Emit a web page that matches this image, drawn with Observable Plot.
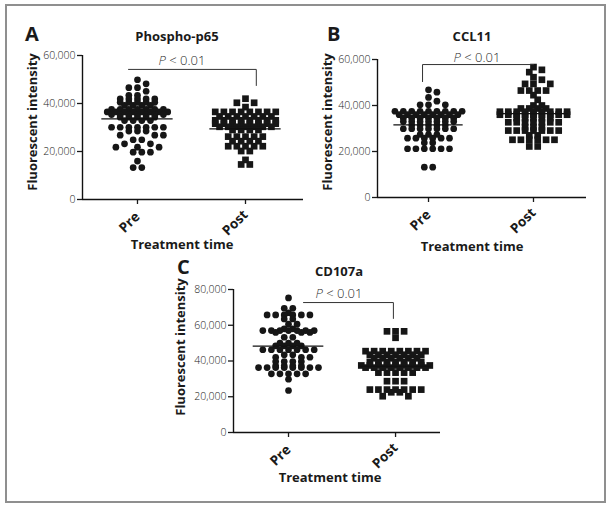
<!DOCTYPE html>
<html><head><meta charset="utf-8">
<script src="https://cdn.jsdelivr.net/npm/d3@7"></script>
<script src="https://cdn.jsdelivr.net/npm/@observablehq/plot@0.6"></script>
<style>
body{margin:0;background:#fff;}
#wrap{position:relative;width:611px;height:511px;overflow:hidden;background:#fff;font-family:"Open Sans",sans-serif;}
#border{position:absolute;left:5px;top:4px;width:601px;height:499px;box-sizing:border-box;border:2px solid #8f8f8f;}
.panel{position:absolute;}
.panel g[aria-label="y-axis tick label"]{font-weight:300;}
#overlay{position:absolute;left:0;top:0;pointer-events:none;}
</style></head><body>
<div id="wrap"><div id="border"></div></div>
<script>
// ---- data ----
const groupLabels = ["Pre", "Post"];
const panelLetters = ["A", "B", "C"];
const panelTitles = ["Phospho-p65", "CCL11", "CD107a"];
const axisTitleY = "Fluorescent intensity";
const axisTitleX = "Treatment time";
const pLabel = "< 0.01";

// rows: [fluorescent intensity, number of subjects at that level]
const phosphoPre = [[49900,1],[48200,1],[46600,2],[45100,1],[43400,2],[41900,5],[40500,5],[39200,4],[37600,7],[36500,8],[35400,7],[34300,5],[32900,4],[30100,7],[28500,3],[26800,3],[24900,2],[23200,2],[21800,3],[19700,3],[16000,1],[13300,2]];
const phosphoPost = [[42000,1],[40300,2],[38500,1],[36500,8],[34600,7],[33000,8],[31600,8],[30300,7],[29000,4],[26200,5],[24300,4],[22200,5],[20200,2],[16500,1],[14600,2]];
const ccl11Pre = [[46800,1],[45800,1],[43500,1],[41900,1],[40300,3],[37500,9],[36000,8],[34500,7],[33000,7],[31500,5],[29900,7],[27400,3],[25800,6],[23800,2],[21200,6],[13200,2]];
const ccl11Post = [[56700,1],[55500,1],[54500,1],[52300,1],[51200,1],[49400,3],[46500,4],[44500,1],[42500,1],[40000,2],[38700,4],[37300,9],[36000,9],[34500,5],[32700,7],[30600,3],[29100,7],[27000,2],[25100,6],[22200,2]];
const cd107aPre = [[75300,1],[69500,2],[67000,1],[65800,6],[63500,2],[60600,2],[58000,2],[57000,7],[56000,3],[53300,2],[50000,3],[48500,4],[46300,7],[43500,2],[42100,3],[39700,4],[37300,4],[36300,8],[32800,5],[29800,1],[23500,1]];
const cd107aPost = [[56600,3],[53000,1],[45500,8],[43500,7],[41500,6],[39500,7],[37500,9],[36300,8],[33500,5],[28700,3],[24000,7],[22500,2],[20300,2]];

// group means (horizontal lines)
const phosphoMeans = [33600, 29400];
const ccl11Means = [31600, 36500];
const cd107aMeans = [48300, 37000];

// significance brackets: [x start, x end, level, end drop level, drop side]
const phosphoBracket = [-0.083, 1.10, 54200, 47500, 1];
const ccl11Bracket = [-0.057, 1.0, 57800, 50400, 0];
const cd107aBracket = [0.14, 0.98, 72700, 63800, 1];

const yTicks60 = [0, 20000, 40000, 60000];
const yTicks80 = [0, 20000, 40000, 60000, 80000];

// ---- layout ----
const panels = [
  {groups:[phosphoPre, phosphoPost], means:phosphoMeans, bracket:phosphoBracket, yMax:60000, yTicks:yTicks60,
   left:0, top:0, width:311, height:260, mt:55, mr:8, mb:61, ml:82, xDomain:[-0.509, 1.537], labelDy:[15, 13]},
  {groups:[ccl11Pre, ccl11Post], means:ccl11Means, bracket:ccl11Bracket, yMax:60000, yTicks:yTicks60,
   left:300, top:0, width:311, height:260, mt:59, mr:25, mb:63, ml:77, xDomain:[-0.486, 1.505], labelDy:[15, 13]},
  {groups:[cd107aPre, cd107aPost], means:cd107aMeans, bracket:cd107aBracket, yMax:80000, yTicks:yTicks80,
   left:160, top:250, width:300, height:260, mt:39, mr:20, mb:78, ml:73, xDomain:[-0.514, 1.42], labelDy:[15, 13]}
];

const STEP = 0.08;   // horizontal spacing of symbols within a row (x units)
const DIAM = 6.7;    // symbol size, px

function swarm(rows, gi, kx, ky){
  const pts = [], sparse = [];
  const sorted = rows.slice().sort((a,b)=>b[0]-a[0]);
  const collides = (off, v) => sparse.some(s => Math.hypot((off - s.off)*kx, (v - s.v)*ky) < DIAM*0.92);
  for (const [v, n] of sorted){
    const centered = d3.range(n).map(i => (i - (n-1)/2)*STEP);
    if (n >= 4 || centered.every(o => !collides(o, v))){
      centered.forEach(o => { pts.push({g:gi, x:gi+o, y:v}); if (n < 4) sparse.push({off:o, v}); });
    } else {
      for (let i=0;i<n;i++){
        for (let k=0;k<60;k++){
          const off = ((k+1)>>1) * (k%2 ? 1 : -1) * STEP/2;
          if (!collides(off, v)){ pts.push({g:gi, x:gi+off, y:v}); sparse.push({off, v}); break; }
        }
      }
    }
  }
  return pts;
}

const wrap = document.getElementById("wrap");

panels.forEach((p, pi) => {
  const kx = (p.width - p.ml - p.mr)/(p.xDomain[1]-p.xDomain[0]);
  const ky = (p.height - p.mt - p.mb)/p.yMax;
  const pts = p.groups.flatMap((rows, gi) => swarm(rows, gi, kx, ky));
  const meanData = p.means.map((m, gi) => ({g:gi, m}));
  const [bx1, bx2, by, bdrop, side] = p.bracket;
  const path = side === 1
    ? [{x:bx1,y:by},{x:bx2,y:by},{x:bx2,y:bdrop}]
    : [{x:bx1,y:bdrop},{x:bx1,y:by},{x:bx2,y:by}];
  const labels = groupLabels.map((l, i) => ({i, l, dy:p.labelDy[i]}));
  const svg = Plot.plot({
    width:p.width, height:p.height,
    marginTop:p.mt, marginRight:p.mr, marginBottom:p.mb, marginLeft:p.ml,
    x:{domain:p.xDomain},
    y:{domain:[0, p.yMax]},
    style:{fontFamily:"'Open Sans', sans-serif", fontSize:"10.5px", color:"#1a1a1a", background:"transparent", overflow:"visible"},
    marks:[
      Plot.axisY({ticks:p.yTicks, tickFormat:d3.format(","), tickSize:5, tickPadding:2, label:null, strokeWidth:1.3, fill:"#222"}),
      Plot.axisX({ticks:[0,1], tickFormat:() => "", tickSize:5, label:null, strokeWidth:1.3}),
      ...labels.map(d => Plot.text([d], {x:"i", y:() => 0, text:"l", dy:d.dy, rotate:-45, textAnchor:"end", lineAnchor:"middle", fontSize:13.5, fontWeight:"bold", fill:"#1a1a1a"})),
      Plot.ruleY([0], {strokeWidth:1.4, stroke:"#111"}),
      Plot.ruleX([p.xDomain[0]], {strokeWidth:1.4, stroke:"#111"}),
      Plot.dot(pts.filter(d => d.g === 0), {x:"x", y:"y", r:DIAM/2, fill:"#161616", symbol:"circle"}),
      Plot.dot(pts.filter(d => d.g === 1), {x:"x", y:"y", r:DIAM/Math.sqrt(Math.PI), fill:"#161616", symbol:"square"}),
      Plot.ruleY(meanData, {y:"m", x1:d => d.g - 0.33, x2:d => d.g + 0.33, stroke:"#111", strokeWidth:1.3}),
      Plot.line(path, {x:"x", y:"y", stroke:"#333", strokeWidth:1})
    ]
  });
  svg.classList.add("panel");
  svg.style.left = p.left + "px";
  svg.style.top = p.top + "px";
  svg.style.position = "absolute";
  wrap.appendChild(svg);
});

// ---- text overlay: panel letters, titles, axis titles, P values ----
const textPos = [
  {letter:[25,41], title:[177,41], p:[182,65], yl:[37,122], xl:[182,249]},
  {letter:[327,41], title:[472,41], p:[477,61.5], yl:[332,122], xl:[472,251]},
  {letter:[177,273.5], title:[339,276], p:[339,298], yl:[185,347], xl:[330,482]}
];
const ov = d3.select(wrap).append("svg").attr("id","overlay").attr("width",611).attr("height",511)
  .style("font-family","'Open Sans', sans-serif").attr("fill","#1a1a1a");
textPos.forEach((t, i) => {
  ov.append("text").attr("x", t.letter[0]).attr("y", t.letter[1]).attr("font-size", 20).attr("font-weight", 700).text(panelLetters[i]);
  ov.append("text").attr("x", t.title[0]).attr("y", t.title[1]).attr("text-anchor","middle").attr("font-size", 13).attr("font-weight", 700).text(panelTitles[i]);
  const pt = ov.append("text").attr("x", t.p[0]).attr("y", t.p[1]).attr("text-anchor","middle").attr("font-size", 13).attr("font-weight", 300).attr("fill","#2a2a2a");
  pt.append("tspan").attr("font-style","italic").text("P");
  pt.append("tspan").text(" " + pLabel);
  ov.append("text").attr("transform", `translate(${t.yl[0]},${t.yl[1]}) rotate(-90)`).attr("text-anchor","middle").attr("font-size", 13).attr("font-weight", 700).text(axisTitleY);
  ov.append("text").attr("x", t.xl[0]).attr("y", t.xl[1]).attr("text-anchor","middle").attr("font-size", 13).attr("font-weight", 700).text(axisTitleX);
});
</script>
</body></html>
